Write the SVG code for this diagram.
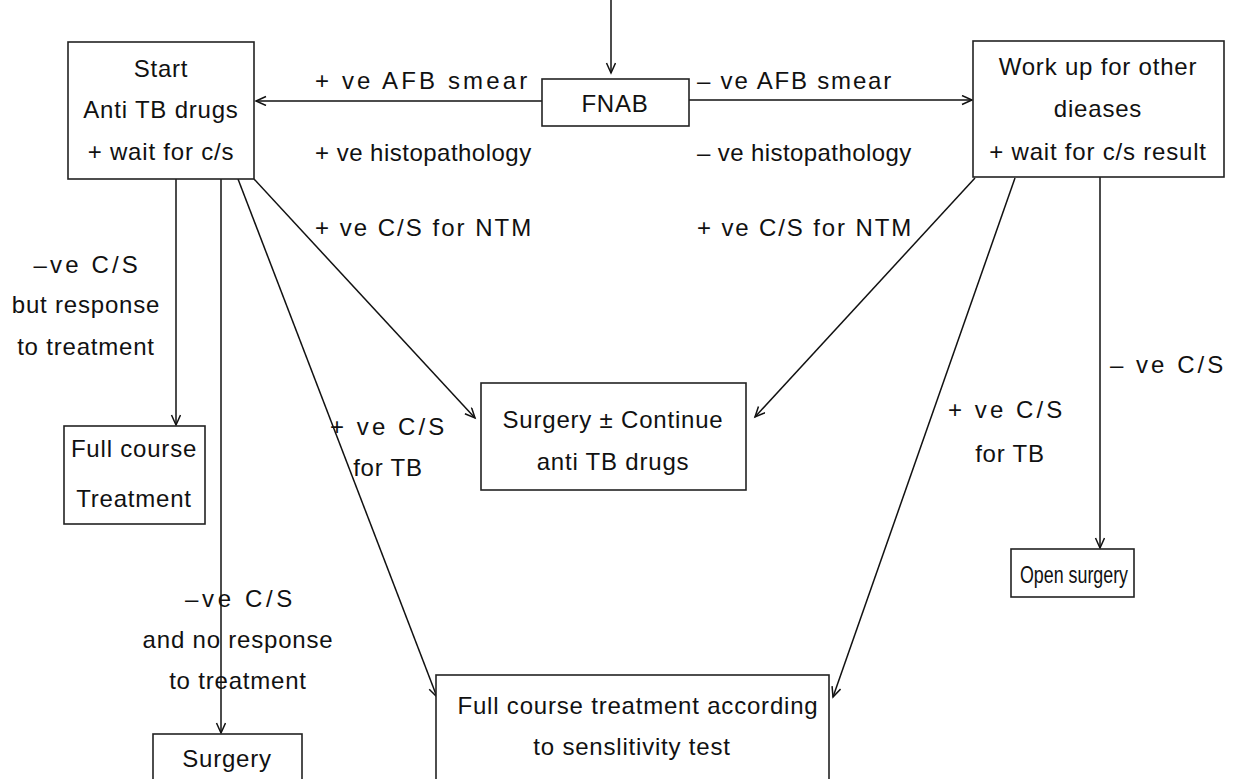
<svg xmlns="http://www.w3.org/2000/svg" width="1234" height="779" viewBox="0 0 1234 779">
<style>
  text { font-family: "Liberation Sans", Arial, sans-serif; font-size: 24px; fill: #111; letter-spacing: 0.8px; }
  .c { text-anchor: middle; }
  .box { fill: #fff; stroke: #222; stroke-width: 1.6; }
  .ln { fill: none; stroke: #111; stroke-width: 1.5; }
</style>
<defs>
  <marker id="ar" markerUnits="userSpaceOnUse" markerWidth="14" markerHeight="12" refX="11" refY="5" orient="auto">
    <path d="M1,0.5 L11,5 L1,9.5" fill="none" stroke="#111" stroke-width="1.5"/>
  </marker>
</defs>
<rect width="1234" height="779" fill="#fff"/>

<g id="connectors">
  <line class="ln" x1="611" y1="0" x2="611" y2="73" marker-end="url(#ar)"/>
  <line class="ln" x1="542" y1="101" x2="256" y2="101" marker-end="url(#ar)"/>
  <line class="ln" x1="689" y1="100" x2="972" y2="100" marker-end="url(#ar)"/>
  <line class="ln" x1="176" y1="179" x2="176" y2="425" marker-end="url(#ar)"/>
  <line class="ln" x1="221" y1="179" x2="221" y2="733" marker-end="url(#ar)"/>
  <line class="ln" x1="238" y1="179" x2="437" y2="697" marker-end="url(#ar)"/>
  <line class="ln" x1="254" y1="179" x2="475" y2="418" marker-end="url(#ar)"/>
  <line class="ln" x1="975" y1="178" x2="755" y2="417" marker-end="url(#ar)"/>
  <line class="ln" x1="1015" y1="178" x2="833" y2="697" marker-end="url(#ar)"/>
  <line class="ln" x1="1100" y1="177" x2="1100" y2="548" marker-end="url(#ar)"/>
</g>

<g id="labels">
  <text x="315" y="89" textLength="213" lengthAdjust="spacing">+ ve AFB smear</text>
  <text x="697" y="89" textLength="195" lengthAdjust="spacing">– ve AFB smear</text>
  <text x="315" y="161" textLength="217" lengthAdjust="spacing">+ ve histopathology</text>
  <text x="697" y="161" textLength="215" lengthAdjust="spacing">– ve histopathology</text>
  <text x="315" y="236" textLength="217" lengthAdjust="spacing">+ ve C/S for NTM</text>
  <text x="697" y="236" textLength="215" lengthAdjust="spacing">+ ve C/S for NTM</text>
  <text class="c" x="86" y="273" textLength="105" lengthAdjust="spacing">–ve C/S</text>
  <text class="c" x="86" y="313">but response</text>
  <text class="c" x="86" y="355">to treatment</text>
  <text x="330" y="435" textLength="115" lengthAdjust="spacing">+ ve C/S</text>
  <text class="c" x="388" y="476">for TB</text>
  <text x="948" y="418" textLength="115" lengthAdjust="spacing">+ ve C/S</text>
  <text class="c" x="1010" y="462">for TB</text>
  <text x="1110" y="373" textLength="114" lengthAdjust="spacing">– ve C/S</text>
  <text class="c" x="239" y="607" textLength="108" lengthAdjust="spacing">–ve C/S</text>
  <text class="c" x="238" y="648">and no response</text>
  <text class="c" x="238" y="689">to treatment</text>
</g>

<g id="node-start">
  <rect class="box" x="68" y="42" width="186" height="137"/>
  <text class="c" x="161" y="77">Start</text>
  <text class="c" x="161" y="118">Anti TB drugs</text>
  <text class="c" x="161" y="160">+ wait for c/s</text>
</g>

<g id="node-fnab">
  <rect class="box" x="542" y="79" width="147" height="47"/>
  <text class="c" x="615" y="112">FNAB</text>
</g>

<g id="node-workup">
  <rect class="box" x="973" y="41" width="251" height="136"/>
  <text class="c" x="1098" y="75">Work up for other</text>
  <text class="c" x="1098" y="117">dieases</text>
  <text class="c" x="1098" y="160">+ wait for c/s result</text>
</g>

<g id="node-fullcourse">
  <rect class="box" x="64" y="426" width="141" height="98"/>
  <text class="c" x="134" y="457">Full course</text>
  <text class="c" x="134" y="507">Treatment</text>
</g>

<g id="node-surgery-continue">
  <rect class="box" x="481" y="383" width="265" height="107"/>
  <text class="c" x="613" y="428">Surgery ± Continue</text>
  <text class="c" x="613" y="470">anti TB drugs</text>
</g>

<g id="node-open-surgery">
  <rect class="box" x="1011" y="549" width="123" height="48"/>
  <text class="c" x="1074" y="583" style="font-size:23px;letter-spacing:0" textLength="108" lengthAdjust="spacingAndGlyphs">Open surgery</text>
</g>

<g id="node-surgery">
  <rect class="box" x="153" y="734" width="149" height="60"/>
  <text class="c" x="227" y="767">Surgery</text>
</g>

<g id="node-fullcourse-sensitivity">
  <rect class="box" x="436" y="675" width="393" height="115"/>
  <text class="c" x="638" y="714">Full course treatment according</text>
  <text class="c" x="632" y="755">to senslitivity test</text>
</g>
</svg>
